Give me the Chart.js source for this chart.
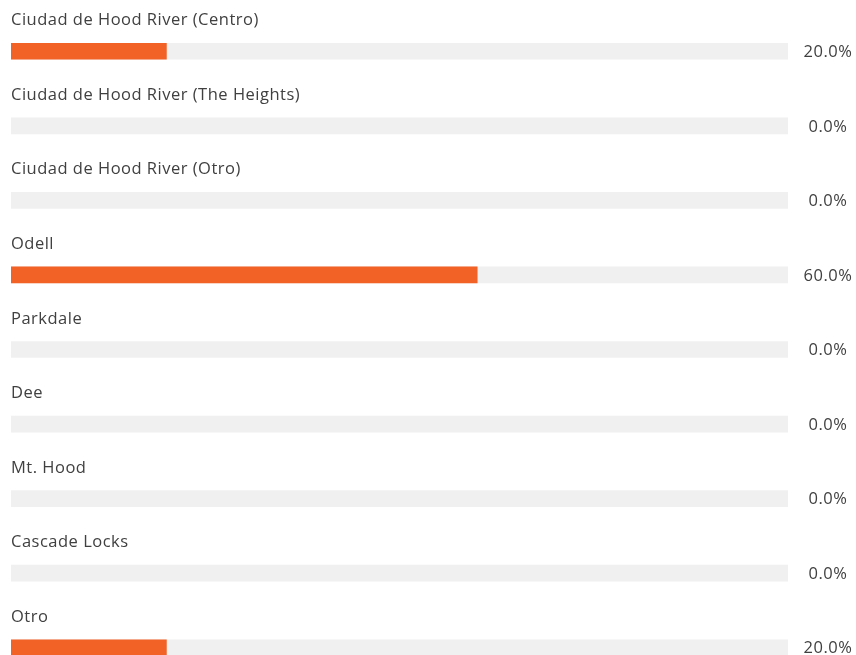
<!DOCTYPE html>
<html>
<head>
<meta charset="utf-8">
<script src="https://cdn.jsdelivr.net/npm/chart.js@4.4.0/dist/chart.umd.min.js"></script>
<style>
    html, body { margin: 0; padding: 0; background: #fff; overflow: hidden; }
    #wrap { width: 856px; height: 700px; position: relative; }
</style>
</head>
<body>
<div id="wrap"><canvas id="answers"></canvas></div>
<script>
const categories = [
    'Ciudad de Hood River (Centro)',
    'Ciudad de Hood River (The Heights)',
    'Ciudad de Hood River (Otro)',
    'Odell',
    'Parkdale',
    'Dee',
    'Mt. Hood',
    'Cascade Locks',
    'Otro'
];
const percents = [20, 0, 0, 60, 0, 0, 0, 0, 20];
const trackValues = categories.map(() => 100);

const FONT = '"Open Sans", sans-serif';

// label above each bar + percentage on the right
const rowLabels = {
    id: 'rowLabels',
    afterDatasetsDraw(chart) {
        const ctx = chart.ctx;
        const y = chart.scales.y;
        ctx.save();
        ctx.fillStyle = '#404040';
        ctx.font = '16.5px ' + FONT;
        ctx.letterSpacing = '0.5px';
        categories.forEach((name, i) => {
            const cy = y.getPixelForValue(i);
            ctx.textAlign = 'left';
            ctx.textBaseline = 'alphabetic';
            ctx.fillText(name, chart.chartArea.left, cy - 26);
            ctx.textAlign = 'center';
            ctx.textBaseline = 'middle';
            ctx.fillText(percents[i].toFixed(1) + '%', 828, cy + 1);
        });
        ctx.restore();
    }
};

new Chart(document.getElementById('answers').getContext('2d'), {
    type: 'bar',
    data: {
        labels: categories,
        datasets: [{
            data: percents,
            // nothing to paint for empty answers
            backgroundColor: c => (c.raw > 0 ? '#f26125' : 'rgba(0,0,0,0)'),
            barThickness: 16,
            grouped: false,
            order: 0
        }, {
            data: trackValues,
            backgroundColor: '#f0f0f0',
            barThickness: 16,
            grouped: false,
            order: 1
        }]
    },
    options: {
        indexAxis: 'y',
        responsive: true,
        maintainAspectRatio: false,
        animation: false,
        layout: {
            padding: { top: 14, left: 11, right: 68, bottom: 15 }
        },
        plugins: {
            legend: { display: false },
            tooltip: { enabled: false }
        },
        scales: {
            x: { display: false, min: 0, max: 100 },
            y: { display: false }
        }
    },
    plugins: [rowLabels]
});
</script>
</body>
</html>
